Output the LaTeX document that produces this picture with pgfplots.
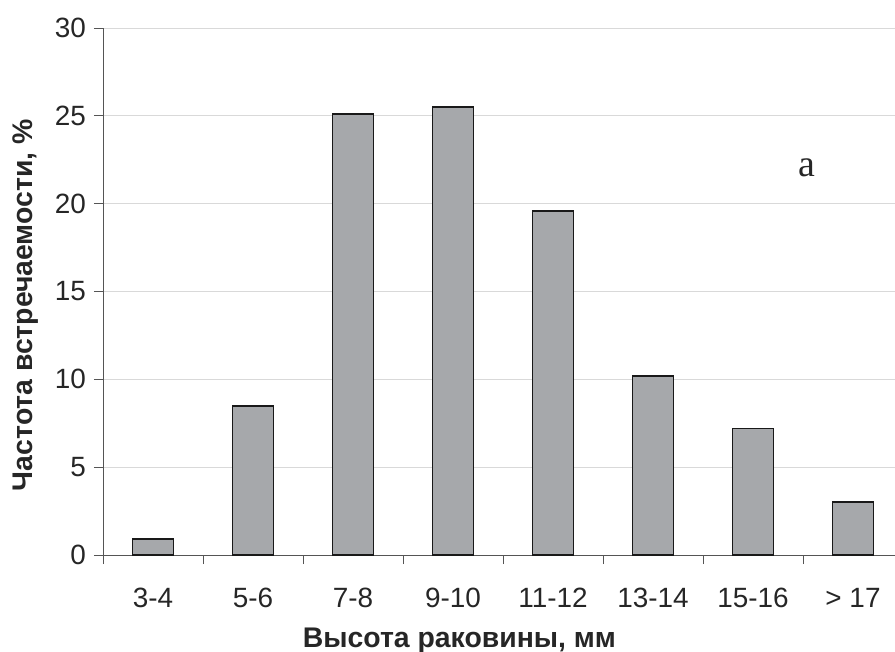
\documentclass[border=0pt]{standalone}
\usepackage{pgfplots}
\pgfplotsset{compat=1.18}
\usepackage{fontspec}
\setmainfont{Liberation Sans}
\newfontfamily\seriffont{Liberation Serif}
\definecolor{barfill}{HTML}{A6A8AB}
\definecolor{gridc}{HTML}{D9D9D9}
\definecolor{axc}{HTML}{555555}
\begin{document}
\begin{tikzpicture}
\begin{axis}[
  scale only axis,
  width=792bp, height=527bp,
  xmin=-0.5, xmax=7.42,
  ymin=0, ymax=30,
  ytick={0,5,...,30},
  axis x line=bottom, axis y line=left,
  axis line style={axc, line width=0.8pt, -},
  ymajorgrids, grid style={gridc, line width=0.8pt},
  xtick={-0.5,0.5,...,6.5},
  xticklabels={},
  extra x ticks={0,1,2,3,4,5,6,7},
  extra x tick labels={3-4,5-6,7-8,9-10,11-12,13-14,15-16,{> 17}},
  extra x tick style={major tick length=0pt, grid=none},
  tick align=outside,
  major tick length=9bp,
  tick style={axc, line width=0.8pt},
  ticklabel style={font=\fontsize{28}{32}\selectfont, inner sep=0pt, text=black!85},
  /pgf/number format/assume math mode=true,
  xticklabel style={anchor=base, yshift=-52bp},
  yticklabel shift=8bp,
  xlabel={\textbf{Высота раковины, мм}},
  ylabel={\textbf{Частота встречаемости, \%}},
  label style={font=\fontsize{28.5}{32}\selectfont, inner sep=0pt, text=black!85},
  xlabel style={at={(axis description cs:0.45,-0.1746)}, anchor=base},
  ylabel style={at={(axis description cs:-0.0884,0.474)}, anchor=base, rotate=0},
  clip=false,
]
\coordinate (o) at (axis cs:-0.5,0);
\addplot[ybar, bar width=41bp, fill=barfill, draw=black!90, line width=1.8pt]
  coordinates {(0,0.9) (1,8.5) (2,25.1) (3,25.5) (4,19.6) (5,10.2) (6,7.2) (7,3.0)};
\node[font=\seriffont\fontsize{38}{40}\selectfont, anchor=base, text=black!85] at (axis cs:6.54,21.57) {a};
\end{axis}
\pgfresetboundingbox
\path[use as bounding box] (o) ++(-103bp,-97bp) rectangle ++(895bp,652bp);
\end{tikzpicture}
\end{document}
